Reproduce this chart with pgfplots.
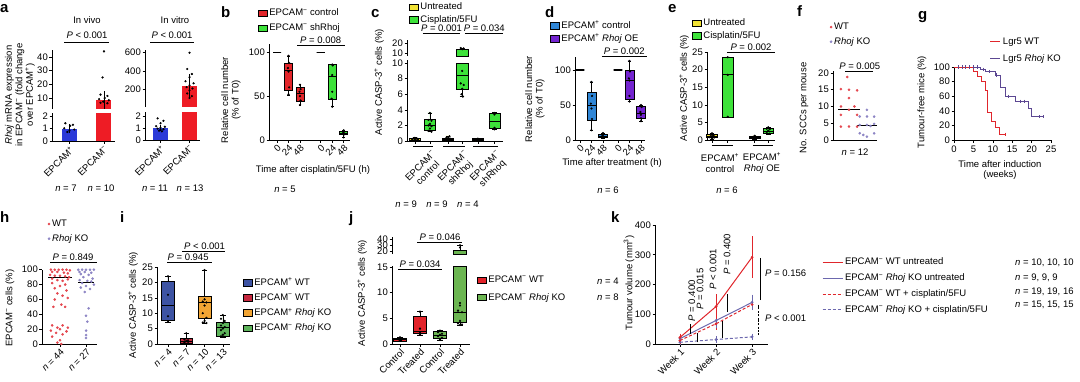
\documentclass[border=0pt]{standalone}
\usepackage{fontspec}
\setmainfont{Liberation Sans}
\usepackage{pgfplots}
\pgfplotsset{compat=1.18}
\usepgfplotslibrary{statistics}

\definecolor{aBlue}{HTML}{2B3AD8}
\definecolor{aRed}{HTML}{EE1C25}
\definecolor{bRed}{HTML}{E3262B}
\definecolor{bGreen}{HTML}{3DE23A}
\definecolor{cYel}{HTML}{F1E234}
\definecolor{dBlue}{HTML}{2F86D6}
\definecolor{dPur}{HTML}{7424D0}
\definecolor{fRed}{HTML}{E4474F}
\definecolor{fPur}{HTML}{8C84C4}
\definecolor{gRed}{HTML}{E0262C}
\definecolor{gPur}{HTML}{5C4792}
\definecolor{iBlue}{HTML}{3D53A3}
\definecolor{iRed}{HTML}{C6283F}
\definecolor{iOra}{HTML}{F2A534}
\definecolor{iGre}{HTML}{5DB35A}
\definecolor{jRed}{HTML}{E2232A}
\definecolor{jGre}{HTML}{6CB652}
\definecolor{kRed}{HTML}{E0262C}
\definecolor{kPur}{HTML}{6C68AE}

\newcommand\fs{\fontsize{9.5}{10.5}\selectfont}
\newcommand\ms{\textsuperscript{−}}
\newcommand\pl{\textsuperscript{+}}
\newcommand\Pv{\textit{P}}
\newcommand\nn{\textit{n}}

\pgfplotsset{
  nat/.style={scale only axis, anchor=south west, axis lines*=left,
    axis line style={-, line width=0.6pt},
    tick align=outside, major tick length=2.5pt,
    every tick/.append style={black, line width=0.6pt},
    enlargelimits=false, clip=false,
    tick label style={font=\fs},
    /pgf/number format/assume math mode=true,
    yticklabel style={inner sep=1.5pt},
    legend cell align=left,
    legend style={draw=none, fill=none, inner sep=0pt, outer sep=0pt, font=\fs, anchor=north west},
  },
  top/.style={nat, axis x line=none},
  rotx/.style={xticklabel style={rotate=45, anchor=north east, inner sep=1pt, font=\fs}},
  bx/.style n args={6}{boxplot prepared={draw direction=y, draw position=#1, lower whisker=#2, lower quartile=#3, median=#4, upper quartile=#5, upper whisker=#6}, draw=black, line width=0.5pt, forget plot},
  pts/.style={only marks, mark=*, mark size=0.9pt, black, forget plot},
  boxleg/.style={legend image code/.code={\draw[##1, draw=black, line width=0.4pt] (0pt,-3.2pt) rectangle (9pt,3.2pt);}},
  dotleg/.style={legend image code/.code={\draw[##1] plot coordinates {(2pt,0pt)};}},
  lineleg/.style={legend image code/.code={\draw[##1] (0pt,0pt) -- (#1,0pt);}},
  eb/.style={forget plot, error bars/.cd, y dir=both, y explicit, error bar style={line width=0.6pt, solid, draw=#1}, error mark options={line width=0.6pt, mark size=2pt, solid, draw=#1}},
  eb/.default=black,
}

\begin{document}
\begin{tikzpicture}[font=\fs]
\useasboundingbox (0pt,0pt) rectangle (1080pt,-381pt);

% ================= a =================
\begin{axis}[nat, at={(52pt,-141pt)}, width=63pt, height=28pt,
  xmin=-0.507, xmax=1.32, ymin=0, ymax=2.24, ytick={0,1,2},
  xtick={0,1}, xticklabels={EPCAM\pl, EPCAM\ms}, rotx]
\addplot[ybar, bar width=15pt, fill=aBlue, draw=none, forget plot] coordinates {(0,1)};
\addplot[ybar, bar width=15pt, fill=aRed, draw=none, forget plot] coordinates {(1,2.24)};
\addplot[draw=none, mark=none, eb] coordinates {(0,1) +- (0,0.2)};
\addplot[pts] coordinates {(-0.12,1.42)(0.1,1.3)(0.02,1.22)(-0.15,1.02)(0.14,0.92)(0,0.82)(-0.06,0.72)};
\end{axis}
\begin{axis}[top, at={(52pt,-109pt)}, width=63pt, height=59pt, clip=true,
  xmin=-0.507, xmax=1.32, ymin=2, ymax=45, ytick={10,20,30,40}]
\addplot[ybar, bar width=15pt, fill=aRed, draw=none, forget plot] coordinates {(1,8.5)};
\addplot[draw=none, mark=none, eb] coordinates {(1,8.5) +- (0,5)};
\addplot[pts] coordinates {(1,44)(0.96,25)(0.9,12.5)(1.1,11.5)(1.02,10)(0.86,9.2)(1.14,8.4)(0.98,7.4)(0.9,6.5)(1.1,6.2)};
\end{axis}
\begin{axis}[nat, at={(145pt,-140pt)}, width=55pt, height=28pt,
  xmin=-0.534, xmax=1.36, ymin=0, ymax=2.33, ytick={0,1,2},
  xtick={0,1}, xticklabels={EPCAM\pl, EPCAM\ms}, rotx]
\addplot[ybar, bar width=15pt, fill=aBlue, draw=none, forget plot] coordinates {(0,1)};
\addplot[ybar, bar width=15pt, fill=aRed, draw=none, forget plot] coordinates {(1,2.33)};
\addplot[draw=none, mark=none, eb] coordinates {(0,1) +- (0,0.12)};
\addplot[pts] coordinates {(-0.1,1.8)(0.1,1.6)(0,1.4)(-0.15,1.15)(0.15,1.1)(0,1.02)(-0.1,0.95)(0.1,0.9)(0,0.85)(-0.05,0.78)(0.05,0.72)};
\end{axis}
\begin{axis}[top, at={(145pt,-107pt)}, width=55pt, height=57pt, clip=true,
  xmin=-0.534, xmax=1.36, ymin=0, ymax=630, ytick={200,400,600}]
\addplot[ybar, bar width=15pt, fill=aRed, draw=none, forget plot] coordinates {(1,230)};
\addplot[draw=none, mark=none, eb] coordinates {(1,230) +- (0,110)};
\addplot[pts] coordinates {(1,600)(0.92,420)(1.08,365)(1,330)(0.86,285)(1.14,262)(1,240)(0.9,220)(1.1,205)(1,185)(0.92,150)(1.08,120)(1,100)};
\end{axis}

% ================= b =================
\begin{axis}[nat, at={(269pt,-140pt)}, width=81pt, height=96.5pt,
  xmin=-0.7, xmax=6.35, ymin=0, ymax=110, ytick={0,50,100},
  xtick={0,1,2,3.8,4.8,5.8}, xticklabels={0,24,48,0,24,48}, rotx,
  boxplot/box extend=0.7, boxplot/whisker extend=0.25, boxleg,
  legend style={at={(-0.136,1.378)}, row sep=2.5pt}]
\addlegendimage{fill=bRed}\addlegendentry{EPCAM\ms{} control}
\addlegendimage{fill=bGreen}\addlegendentry{EPCAM\ms{} shRhoj}
\addplot[bx={0}{100}{100}{100}{100}{100}, line width=1.3pt] coordinates {};
\addplot[bx={1}{51}{57}{80}{88}{96}, fill=bRed] coordinates {};
\addplot[bx={2}{40}{44}{53}{60}{63}, fill=bRed] coordinates {};
\addplot[bx={3.8}{100}{100}{100}{100}{100}, line width=1.3pt] coordinates {};
\addplot[bx={4.8}{38}{47}{73}{86}{86}, fill=bGreen] coordinates {};
\addplot[bx={5.8}{3}{6}{8}{10}{11}, fill=bGreen] coordinates {};
\addplot[pts] coordinates {(1,96)(1.05,88)(0.95,82)(1,78)(1.05,60)(1,52)
  (2,63)(2.05,58)(1.95,55)(2,50)(2.05,45)(2,40)
  (4.8,86)(4.85,85)(4.8,74)(4.8,55)(4.75,47)(4.8,38)
  (5.8,11)(5.85,10)(5.75,9)(5.8,8)(5.8,6)(5.8,3)};
\draw[line width=0.5pt] (axis cs:1.74,108) -- (axis cs:5.9,108);
\node[font=\fs, anchor=south, inner sep=1.5pt] at (axis cs:3.8,108) {\Pv{} = 0.008};
\end{axis}

% ================= c =================
\begin{axis}[nat, at={(407pt,-141pt)}, width=96pt, height=81pt,
  xmin=-0.53, xmax=5.87, ymin=0, ymax=10.4, ytick={0,2,...,10},
  xtick={0,1,2.2,3.15,4.2,5.3}, xticklabels={},
  boxplot/box extend=0.75, boxplot/whisker extend=0.3, boxleg,
  legend style={at={(0.021,1.728)}, row sep=0pt}]
\addlegendimage{fill=cYel}\addlegendentry{Untreated}
\addlegendimage{fill=bGreen}\addlegendentry{Cisplatin/5FU}
\addplot[bx={0}{0}{0.05}{0.15}{0.3}{0.45}, fill=cYel] coordinates {};
\addplot[bx={1}{1.2}{1.4}{2.0}{2.8}{3.6}, fill=bGreen] coordinates {};
\addplot[bx={2.2}{0}{0.1}{0.25}{0.4}{0.65}, fill=cYel] coordinates {};
\addplot[bx={3.15}{5.7}{6.6}{8.4}{10}{10}, fill=bGreen] coordinates {};
\addplot[bx={4.2}{0}{0.1}{0.2}{0.3}{0.35}, fill=cYel] coordinates {};
\addplot[bx={5.3}{1.5}{1.6}{2.6}{3.5}{3.7}, fill=bGreen] coordinates {};
\addplot[pts] coordinates {(-0.15,0.1)(0,0.2)(0.15,0.3)(-0.1,0.35)(0.1,0.05)(0,0)(-0.2,0.15)(0.2,0.2)(0,0.4)
  (1,3.6)(0.9,2.7)(1.1,2.6)(1,2.2)(0.9,2.0)(1.1,1.9)(1,1.6)(0.9,1.3)(1.1,1.2)
  (2.05,0.1)(2.2,0.2)(2.35,0.3)(2.1,0.45)(2.3,0.6)(2.2,0.05)(2.0,0.2)(2.4,0.15)(2.2,0.35)
  (3.15,9.0)(3.05,7.4)(3.25,7.2)(3.15,6.7)(3.1,6.0)(3.2,5.7)
  (4.1,0.2)(4.2,0.25)(4.3,0.2)(4.2,0.3)
  (5.3,3.6)(5.3,3.4)(5.3,1.7)(5.3,1.5)};
\draw[line width=0.6pt] (axis cs:-0.13,-0.64) -- (axis cs:1.2,-0.64);
\draw[line width=0.6pt] (axis cs:1.87,-0.64) -- (axis cs:3.33,-0.64);
\draw[line width=0.6pt] (axis cs:3.87,-0.64) -- (axis cs:5.53,-0.64);
\draw[line width=0.5pt] (axis cs:0.53,13.85) -- (axis cs:3.0,13.85);
\draw[line width=0.5pt] (axis cs:3.33,13.85) -- (axis cs:5.87,13.85);
\node[font=\fs, anchor=south, inner sep=1.5pt] at (axis cs:1.77,13.85) {\Pv{} = 0.001};
\node[font=\fs, anchor=south, inner sep=1.5pt] at (axis cs:4.62,13.85) {\Pv{} = 0.034};
\node[font=\fs, rotate=45, anchor=north east, align=center, inner sep=0pt] at (axis cs:1.1,-1.1) {EPCAM\ms\\control};
\node[font=\fs, rotate=45, anchor=north east, align=center, inner sep=0pt] at (axis cs:3.25,-1.1) {EPCAM\ms\\shRhoj};
\node[font=\fs, rotate=45, anchor=north east, align=center, inner sep=0pt] at (axis cs:5.4,-1.1) {EPCAM\ms\\shRhoq};
\end{axis}
\begin{axis}[top, at={(407pt,-56pt)}, width=96pt, height=16pt,
  xmin=-0.53, xmax=5.87, ymin=7, ymax=23, ytick={10,20},
  boxplot/box extend=0.75, boxplot/whisker extend=0.3]
\addplot[bx={3.15}{7}{7}{7}{13.5}{15}, fill=bGreen] coordinates {};
\addplot[pts] coordinates {(3.05,15)(3.25,14.6)(3.15,13.8)};
\end{axis}

% ================= d =================
\begin{axis}[nat, at={(575pt,-140pt)}, width=70pt, height=83pt,
  xmin=-0.43, xmax=5.65, ymin=0, ymax=118.6, ytick={0,50,100},
  xtick={0,1,2,3.3,4.3,5.3}, xticklabels={0,24,48,0,24,48}, rotx,
  boxplot/box extend=0.75, boxplot/whisker extend=0.3, boxleg,
  legend style={at={(-0.357,1.458)}, row sep=0pt}]
\addlegendimage{fill=dBlue}\addlegendentry{EPCAM\pl{} control}
\addlegendimage{fill=dPur}\addlegendentry{EPCAM\pl{} \textit{Rhoj} OE}
\addplot[bx={0}{100}{100}{100}{100}{100}, line width=1.3pt] coordinates {};
\addplot[bx={1}{14}{28}{50}{68}{83}, fill=dBlue] coordinates {};
\addplot[bx={2}{3}{4}{6}{8}{10}, fill=dBlue] coordinates {};
\addplot[bx={3.3}{100}{100}{100}{100}{100}, line width=1.3pt] coordinates {};
\addplot[bx={4.3}{55}{58}{86}{100}{113}, fill=dPur] coordinates {};
\addplot[bx={5.3}{27}{31}{38}{48}{50}, fill=dPur] coordinates {};
\addplot[pts] coordinates {(1,83)(1.05,63)(0.95,52)(1,45)(1.05,30)(1,14)
  (2,10)(2.05,8)(1.95,6)(2,5)(2.05,4)(2,3)
  (4.3,113)(4.35,98)(4.25,88)(4.3,85)(4.3,63)(4.3,55)
  (5.3,50)(5.35,47)(5.25,40)(5.3,36)(5.3,31)(5.3,27)};
\draw[line width=0.5pt] (axis cs:1.9,120) -- (axis cs:5.8,120);
\node[font=\fs, anchor=south, inner sep=1.5pt] at (axis cs:3.85,120) {\Pv{} = 0.002};
\end{axis}

% ================= e =================
\begin{axis}[nat, at={(707pt,-140pt)}, width=68pt, height=88pt,
  xmin=-0.33, xmax=4.2, ymin=0, ymax=25, ytick={0,5,...,25},
  xtick={0,1.05,2.85,3.75}, xticklabels={},
  boxplot/box extend=0.7, boxplot/whisker extend=0.3, boxleg,
  legend style={at={(-0.22,1.398)}, row sep=0pt}]
\addlegendimage{fill=cYel}\addlegendentry{Untreated}
\addlegendimage{fill=bGreen}\addlegendentry{Cisplatin/5FU}
\addplot[bx={0}{0.3}{0.7}{1.1}{1.5}{1.9}, fill=cYel] coordinates {};
\addplot[bx={1.05}{6.5}{6.6}{18.7}{23.5}{23.6}, fill=bGreen] coordinates {};
\addplot[bx={2.85}{0.2}{0.4}{0.7}{1.0}{1.2}, fill=cYel] coordinates {};
\addplot[bx={3.75}{1.5}{1.8}{2.6}{3.3}{3.6}, fill=bGreen] coordinates {};
\addplot[pts] coordinates {(0,1.9)(-0.1,1.5)(0.1,1.3)(0,1.1)(-0.15,0.8)(0.15,0.7)(0,0.4)
  (1.05,23.5)(1.05,18.5)(1.05,6.6)
  (2.85,1.2)(2.75,0.9)(2.95,0.7)(2.85,0.4)
  (3.75,3.6)(3.65,3.2)(3.85,3.1)(3.75,2.6)(3.65,2.0)(3.85,1.8)};
\draw[line width=0.6pt] (axis cs:0,-1.4) -- (axis cs:1.4,-1.4);
\draw[line width=0.6pt] (axis cs:2.73,-1.4) -- (axis cs:4.07,-1.4);
\draw[line width=0.5pt] (axis cs:1.0,25) -- (axis cs:4.2,25);
\node[font=\fs, anchor=south, inner sep=1.5pt] at (axis cs:2.6,25) {\Pv{} = 0.002};
\end{axis}

% ================= f =================
\begin{axis}[nat, at={(833pt,-140pt)}, width=44pt, height=68.7pt,
  xmin=-0.89, xmax=1.56, ymin=0, ymax=20.5, ytick={0,5,...,20}, xtick=\empty,
  dotleg, legend style={at={(-0.068,1.732)}, row sep=2.5pt}]
\addlegendimage{mark=*, mark size=1.1pt, fRed}\addlegendentry{WT}
\addlegendimage{mark=*, mark size=1.1pt, fPur}\addlegendentry{\textit{Rhoj} KO}
\addplot[only marks, mark=*, mark size=1.1pt, fRed, forget plot] coordinates {(-0.1,18.8)(-0.45,15.2)(0,15)(0.45,14.8)(0,12.5)(-0.45,10)(0.3,10)(0,9)(-0.45,7.5)(0.45,7.5)(-0.45,4)(0,4)(0.45,4)};
\addplot[only marks, mark=*, mark size=1.1pt, fPur, forget plot] coordinates {(1,9)(0.6,7)(1,7)(1.4,7)(1.4,4.8)(0.6,4.5)(1,4.5)(1.2,4.2)(0.6,2)(1.4,2)(1,1)(0.8,1.5)};
\addplot[black, line width=0.8pt, forget plot] coordinates {(-0.6,9)(0.6,9)};
\addplot[black, line width=0.8pt, forget plot] coordinates {(0.45,4.3)(1.55,4.3)};
\draw[line width=0.5pt] (axis cs:-0.2,20.6) -- (axis cs:1.33,20.6);
\node[font=\fs, anchor=south, inner sep=1.5pt] at (axis cs:0.6,20.6) {\Pv{} = 0.005};
\end{axis}

% ================= g =================
\begin{axis}[nat, at={(954pt,-140pt)}, width=97pt, height=73pt,
  xmin=0, xmax=25, ymin=0, ymax=100, xtick={0,5,...,25}, ytick={0,20,...,100},
  lineleg=10pt, legend style={at={(0.371,1.425)}, row sep=4.5pt}]
\addlegendimage{gRed, line width=1pt}\addlegendentry{Lgr5 WT}
\addlegendimage{gPur, line width=1pt}\addlegendentry{Lgr5 \textit{Rhoj} KO}
\addplot[gPur, line width=1pt, const plot, forget plot] coordinates {(0,100)(6.7,97)(8,94)(10.6,89)(12,72)(13.2,60)(15.8,53)(19.2,43)(20,32)(23,32)};
\addplot[gRed, line width=1pt, const plot, forget plot] coordinates {(0,100)(5,94)(6,87)(7.2,80)(8,68)(8.6,38)(9.7,25)(10.6,17)(11.6,8)(13.2,8)};
\addplot[gPur, only marks, mark=|, mark size=1.6pt, forget plot] coordinates {(1,100)(2,100)(3,100)(4,100)(5,100)(6,100)(7.5,97)(9,94)(11,89)(14,60)(17,53)(18,53)(22,32)(23,32)};
\addplot[gRed, only marks, mark=|, mark size=1.6pt, forget plot] coordinates {(13.2,8)};
\end{axis}

% ================= h =================
\begin{axis}[nat, at={(42pt,-344pt)}, width=55pt, height=74.3pt,
  xmin=-0.69, xmax=1.42, ymin=0, ymax=100, ytick={0,20,...,100},
  xtick={0,1}, xticklabels={\nn{} = 44, \nn{} = 27}, rotx,
  dotleg, legend style={at={(0.109,1.696)}, row sep=2.5pt}]
\addlegendimage{mark=*, mark size=1.1pt, fRed}\addlegendentry{WT}
\addlegendimage{mark=*, mark size=1.1pt, fPur}\addlegendentry{\textit{Rhoj} KO}
\addplot[only marks, mark=*, mark size=1.1pt, fRed, forget plot] coordinates {
 (-0.35,100)(-0.2,100)(-0.05,100)(0.1,100)(0.25,100)(0.38,99)
 (-0.3,97)(-0.1,97)(0.15,96)(0.3,95)
 (-0.38,93)(-0.2,92)(0,92)(0.2,91)(0.35,90)
 (-0.3,88)(0.3,87)(-0.1,86)(0.1,85)
 (-0.3,82)(0.2,80)(0,78)(-0.2,75)
 (0.25,72)(-0.1,68)(0.1,65)(0.3,62)(-0.2,60)
 (0.05,53)(-0.25,50)(0.2,50)
 (-0.3,25)(0.1,25)(-0.1,22)(0.3,22)(0,20)(-0.35,18)(0.25,17)(-0.15,15)(0.1,13)(-0.3,10)(0,5)(-0.1,2)(0.05,0)};
\addplot[only marks, mark=*, mark size=1.1pt, fPur, forget plot] coordinates {
 (0.7,100)(0.85,100)(1,100)(1.15,100)(1.3,100)(0.75,97)(0.95,97)(1.2,96)(0.8,94)(1.1,93)(0.9,90)(1.25,88)(0.75,86)(1.05,85)(1.2,84)(0.85,82)(1.3,80)(1,78)(0.8,76)(1.15,74)(0.95,70)(1.1,48)(1,38)(1.05,30)(1,18)(1,12)(1,8)};
\addplot[black, line width=0.9pt, forget plot] coordinates {(-0.45,89)(0.45,89)};
\addplot[black, line width=0.9pt, forget plot] coordinates {(0.7,83)(1.3,83)};
\draw[line width=0.5pt] (axis cs:-0.38,110) -- (axis cs:1.42,110);
\node[font=\fs, anchor=south, inner sep=1.5pt] at (axis cs:0.5,110) {\Pv{} = 0.849};
\end{axis}

% ================= i =================
\begin{axis}[nat, at={(157pt,-344pt)}, width=73pt, height=77pt,
  xmin=-0.6, xmax=3.39, ymin=0, ymax=25, ytick={0,5,...,25},
  xtick={0,1,2,3}, xticklabels={\nn{} = 4, \nn{} = 7, \nn{} = 10, \nn{} = 13}, rotx,
  boxplot/box extend=0.7, boxplot/whisker extend=0.3, boxleg,
  legend style={at={(1.178,0.883)}, row sep=2.5pt}]
\addlegendimage{fill=iBlue}\addlegendentry{EPCAM\pl{} WT}
\addlegendimage{fill=iRed}\addlegendentry{EPCAM\ms{} WT}
\addlegendimage{fill=iOra}\addlegendentry{EPCAM\pl{} \textit{Rhoj} KO}
\addlegendimage{fill=iGre}\addlegendentry{EPCAM\ms{} \textit{Rhoj} KO}
\addplot[bx={0}{7}{7.8}{12.5}{20.5}{22}, fill=iBlue] coordinates {};
\addplot[bx={1}{0}{0.3}{1}{1.8}{3.5}, fill=iRed] coordinates {};
\addplot[bx={2}{6.8}{8.5}{13.5}{15.6}{24}, fill=iOra] coordinates {};
\addplot[bx={3}{2.3}{2.6}{5.6}{7.2}{9.4}, fill=iGre] coordinates {};
\addplot[pts] coordinates {(0,22)(0,16)(0,9)(0,7.2)
 (1,3.5)(0.9,1.5)(1.1,1.2)(1,1)(0.9,0.5)(1.1,0.3)(1,0)
 (2,24)(2,14.5)(1.9,13.8)(2.1,13.5)(2,12.5)(1.9,10)(2.1,8.5)(2,7.5)(1.9,7)(2.1,6.8)
 (3,9.4)(2.9,8.2)(3.1,7.5)(3,6.8)(2.9,6)(3.1,5.5)(3,5)(2.9,4.5)(3.1,3.5)(3,3)(2.9,2.5)(3.1,2.3)(3,2.4)};
\draw[line width=0.5pt] (axis cs:-0.05,26.6) -- (axis cs:2.4,26.6);
\node[font=\fs, anchor=south, inner sep=1.5pt] at (axis cs:1.1,26.6) {\Pv{} = 0.945};
\draw[line width=0.5pt] (axis cs:0.77,30.2) -- (axis cs:3.1,30.2);
\node[font=\fs, anchor=south, inner sep=1.5pt] at (axis cs:2.0,30.2) {\Pv{} < 0.001};
\end{axis}

% ================= j =================
\begin{axis}[nat, at={(392pt,-344pt)}, width=78pt, height=78pt,
  xmin=-0.4, xmax=3.5, ymin=0, ymax=15.2, ytick={0,5,10,15},
  xtick={0,1,2,3}, xticklabels={Control,Treated,Control,Treated}, rotx,
  boxplot/box extend=0.67, boxplot/whisker extend=0.3, boxleg,
  legend style={at={(1.09,0.897)}, row sep=5pt}]
\addlegendimage{fill=jRed}\addlegendentry{EPCAM\ms{} WT}
\addlegendimage{fill=jGre}\addlegendentry{EPCAM\ms{} \textit{Rhoj} KO}
\addplot[bx={0}{0.6}{0.6}{0.9}{1.2}{1.3}, fill=jRed] coordinates {};
\addplot[bx={1}{1.8}{2.0}{2.4}{5.5}{6.3}, fill=jRed] coordinates {};
\addplot[bx={2}{0.8}{1.2}{1.8}{2.4}{2.6}, fill=jGre] coordinates {};
\addplot[bx={3}{3.7}{4.2}{6.2}{15.2}{15.2}, fill=jGre] coordinates {};
\addplot[pts] coordinates {(0,1.3)(-0.05,0.9)(0.05,0.7)(0,0.6)
 (1,6.3)(1,3.0)(1,2.2)(1,1.9)
 (2,2.6)(1.9,2.3)(2.1,2.0)(2,1.8)(1.9,1.5)(2.1,1.2)(2,1.0)(2,0.8)
 (3,8)(3,7.5)(2.9,6.5)(3.1,6.2)(3,4.5)(2.9,4)(3.1,3.8)(3,3.7)};
\draw[line width=0.5pt] (axis cs:-0.1,14.6) -- (axis cs:2.1,14.6);
\node[font=\fs, anchor=south, inner sep=1.5pt] at (axis cs:1.0,14.6) {\Pv{} = 0.034};
\draw[line width=0.5pt] (axis cs:0.85,19.9) -- (axis cs:3.1,19.9);
\node[font=\fs, anchor=south, inner sep=1.5pt] at (axis cs:2.0,19.9) {\Pv{} = 0.046};
\end{axis}
\begin{axis}[top, at={(392pt,-254pt)}, width=78pt, height=17pt,
  xmin=-0.4, xmax=3.5, ymin=15, ymax=44, ytick={20,30,40},
  boxplot/box extend=0.67, boxplot/whisker extend=0.3]
\addplot[bx={3}{15}{15}{15}{21}{30}, fill=jGre] coordinates {};
\addplot[pts] coordinates {(3,30)(3,26)};
\end{axis}

% ================= k =================
\begin{axis}[nat, at={(655pt,-344pt)}, width=113pt, height=119pt,
  xmin=-0.69, xmax=2.44, ymin=0, ymax=400, ytick={0,100,...,400},
  xtick={0,1,2}, xticklabels={Week 1, Week 2, Week 3}, rotx,
  lineleg=20pt, legend style={at={(1.478,0.739)}, row sep=3.5pt}]
\addlegendimage{kRed, line width=1pt}\addlegendentry{EPCAM\ms{} WT untreated}
\addlegendimage{kPur, line width=1pt}\addlegendentry{EPCAM\ms{} \textit{Rhoj} KO untreated}
\addlegendimage{kRed, line width=1pt, dash pattern=on 3pt off 2pt}\addlegendentry{EPCAM\ms{} WT + cisplatin/5FU}
\addlegendimage{kPur, line width=1pt, dash pattern=on 3pt off 2pt}\addlegendentry{EPCAM\ms{} \textit{Rhoj} KO + cisplatin/5FU}
\addplot[kPur, line width=1pt, mark=*, mark size=0.8pt, mark options={solid}, dash pattern=on 3pt off 2pt, eb=kPur] coordinates {(0,6)+-(0,3) (1,15)+-(0,4) (2,24)+-(0,4)};
\addplot[kRed, line width=1pt, mark=*, mark size=0.8pt, mark options={solid}, dash pattern=on 3pt off 2pt, eb=kRed] coordinates {(0,12)+-(0,4) (1,68)+-(0,14) (2,133)+-(0,10)};
\addplot[kPur, line width=1pt, mark=*, mark size=0.8pt, eb=kPur] coordinates {(0,18)+-(0,4) (1,79)+-(0,20) (2,140)+-(0,19)};
\addplot[kRed, line width=1pt, mark=*, mark size=0.8pt, eb=kRed] coordinates {(0,22)+-(0,6) (1,126)+-(0,35) (2,292)+-(0,63)};
\addplot[draw=none, mark=none, eb=black] coordinates {(0.3,50.5)+-(0,8.5) (0.47,20.5)+-(0,8.5) (1.17,48)+-(0,22) (1.3,137.5)+-(0,22.5) (2.22,218.5)+-(0,64.5)};
\addplot[draw=none, mark=none, eb={black, dash pattern=on 2pt off 1.5pt}] coordinates {(2.17,81.5)+-(0,44.5)};
\node[font=\fs, rotate=90, anchor=west, inner sep=0pt] at (axis cs:0.33,76) {\Pv{} = 0.400};
\node[font=\fs, rotate=90, anchor=west, inner sep=0pt] at (axis cs:0.56,115) {\Pv{} = 0.015};
\node[font=\fs, rotate=90, anchor=west, inner sep=0pt] at (axis cs:0.92,182) {\Pv{} < 0.001};
\node[font=\fs, rotate=90, anchor=west, inner sep=0pt] at (axis cs:1.31,232) {\Pv{} = 0.400};
\end{axis}

% ================= free text =================
\begin{scope}[x=1pt, y=-1pt, every node/.style={font=\fs, inner sep=0pt}]
\foreach \l/\xx/\yy in {a/0/12, b/221/17, c/371/17, d/545/17, e/668/12, f/797/16, g/918/19, h/0/222, i/120/222, j/349/222, k/611/222}
  \node[anchor=base west, font=\fontsize{15}{15}\bfseries] at (\xx,\yy) {\l};
% a
\node at (87,20) {In vivo};
\node at (175,20) {In vitro};
\node at (87,35) {\Pv{} < 0.001};
\node at (172,35) {\Pv{} < 0.001};
\draw[line width=0.5pt] (64,42.5) -- (109,42.5);
\draw[line width=0.5pt] (150,42.5) -- (194,42.5);
\node[rotate=90, align=center] at (20,95) {\textit{Rhoj} mRNA expression\\in EPCAM\ms{} (fold change\\over EPCAM\pl)};
\node at (66,188) {\nn{} = 7};
\node at (101,188) {\nn{} = 10};
\node at (155,188) {\nn{} = 11};
\node at (190,188) {\nn{} = 13};
% b
\node[rotate=90, align=center] at (231,100) {Relative cell number\\(\% of T0)};
\node at (313,170) {Time after cisplatin/5FU (h)};
\node at (285,189) {\nn{} = 5};
% c
\node[rotate=90] at (379,82) {Active CASP-3\pl{} cells (\%)};
\node at (437,204) {\nn{} = 9\quad\nn{} = 9\quad\nn{} = 4};
% d
\node[rotate=90, align=center] at (535,99) {Relative cell number\\(\% of T0)};
\node at (612,163) {Time after treatment (h)};
\node at (608,190) {\nn{} = 6};
% e
\node[rotate=90] at (684,88) {Active CASP-3\pl{} cells (\%)};
\node[align=center] at (720,163) {EPCAM\pl\\control};
\node[align=center] at (762,163) {EPCAM\pl\\\textit{Rhoj} OE};
\node at (727,190) {\nn{} = 6};
% f
\node[rotate=90] at (804,108) {No. SCCs per mouse};
\node at (855,152) {\nn{} = 12};
% g
\node[rotate=90] at (922,102) {Tumour-free mice (\%)};
\node[align=center] at (1000,170) {Time after induction\\(weeks)};
% h
\node[rotate=90] at (10,308) {EPCAM\ms{} cells (\%)};
% i
\node[rotate=90] at (133,305) {Active CASP-3\pl{} cells (\%)};
% j
\node[rotate=90] at (362,293) {Active CASP-3\pl{} cells (\%)};
\node[anchor=west] at (597,281) {\nn{} = 4};
\node[anchor=west] at (597,297) {\nn{} = 8};
% k
\node[rotate=90] at (629,283) {Tumour volume (mm\textsuperscript{3})};
\node[anchor=west] at (765,273) {\Pv{} = 0.156};
\node[anchor=west] at (765,318) {\Pv{} < 0.001};
\node[anchor=west] at (1015,263) {\nn{} = 10, 10, 10};
\node[anchor=west] at (1015,278) {\nn{} = 9, 9, 9};
\node[anchor=west] at (1015,292) {\nn{} = 19, 19, 16};
\node[anchor=west] at (1015,305) {\nn{} = 15, 15, 15};
\end{scope}
\end{tikzpicture}
\end{document}
